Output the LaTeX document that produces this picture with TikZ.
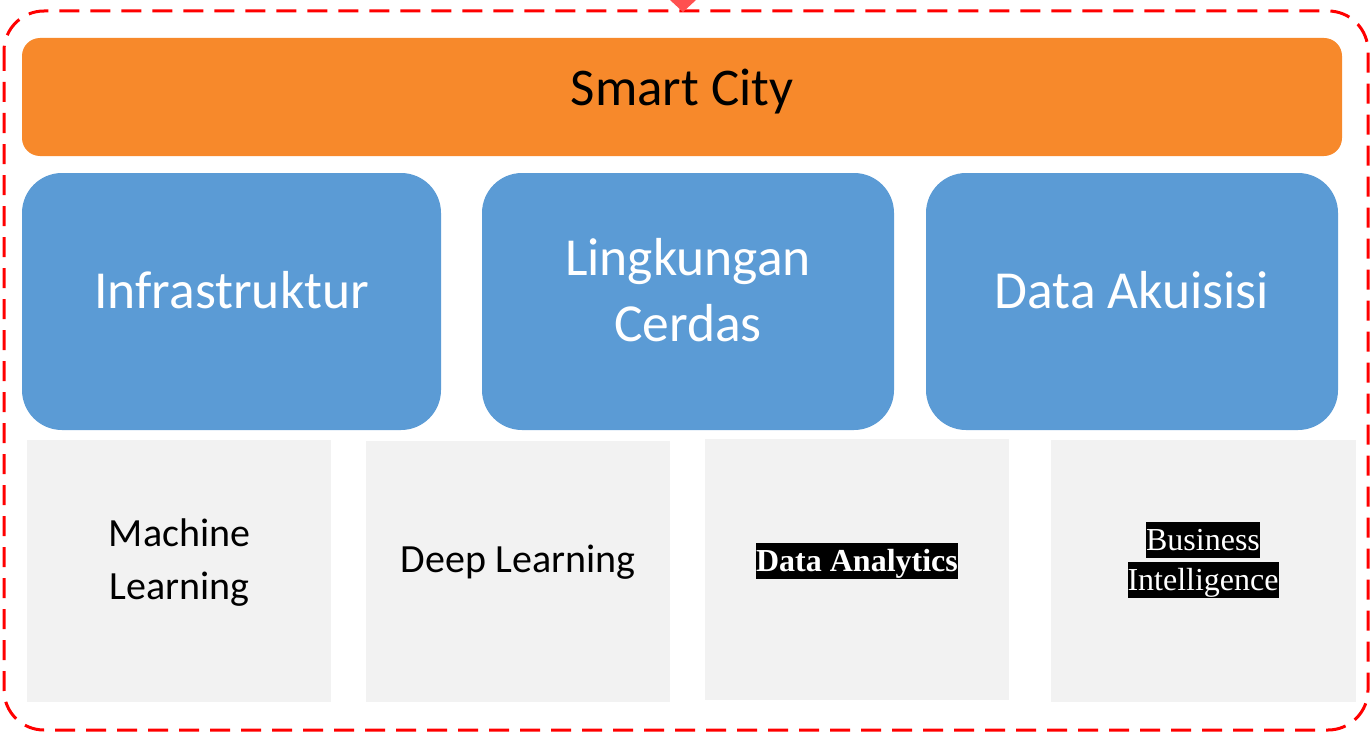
\documentclass[tikz,border=0pt]{standalone}
\usepackage{fontspec}
\setmainfont{Carlito}
\newfontfamily\timesf{Liberation Serif}
\definecolor{orangebar}{HTML}{F7892B}
\definecolor{bluebox}{HTML}{5B9BD5}
\definecolor{graybox}{HTML}{F2F2F2}
\definecolor{dashred}{HTML}{FF0000}
\definecolor{handlered}{HTML}{FF5050}
\newcommand{\hlblack}[1]{{\setlength{\fboxsep}{0pt}\colorbox{black}{\rule[-0.22em]{0pt}{1.1em}\textcolor{white}{#1}}}}
\tikzset{
  topbar/.style={fill=orangebar, draw=none, rounded corners=18pt, inner sep=0pt},
  pillar/.style={fill=bluebox, draw=none, rounded corners=40pt, inner sep=0pt, text=white, align=center, font=\fontsize{53.5}{66}\selectfont},
  tech/.style={fill=graybox, draw=none, inner sep=0pt, align=center, font=\fontsize{40}{53}\selectfont},
  frame/.style={draw=dashred, line width=3pt, dash pattern=on 20pt off 11pt, rounded corners=40pt}
}
\begin{document}
\begin{tikzpicture}[x=1pt,y=-1pt]
\useasboundingbox (0,0) rectangle (1372,733);
% outer dashed frame
\draw[frame] (4,11) rectangle (1368,730);
\fill[handlered] (670,0) -- (696,0) -- (683,12) -- cycle;
% top bar
\node[topbar, minimum width=1320pt, minimum height=118pt] (city) at (682,97) {};
\node[font=\fontsize{53}{60}\selectfont] (citytext) at (682,92) {Smart City};
% pillars
\node[pillar, minimum width=419pt, minimum height=257pt] (infra) at (231.5,301.5) {};
\node[pillar] (infratext) at (231.5,290) {Infrastruktur};
\node[pillar, minimum width=412pt, minimum height=257pt] (env) at (688,301.5) {};
\node[pillar] (envtext) at (688,290) {Lingkungan\\Cerdas};
\node[pillar, minimum width=412pt, minimum height=257pt] (acq) at (1132,301.5) {};
\node[pillar] (acqtext) at (1132,290) {Data Akuisisi};
% technologies
\node[tech, minimum width=304pt, minimum height=262pt] (ml) at (179,571) {};
\node[tech] (mltext) at (179.5,563) {Machine\\Learning};
\node[tech, minimum width=304pt, minimum height=261pt] (dl) at (518,571.5) {};
\node[tech] (dltext) at (518,562) {Deep Learning};
\node[tech, minimum width=304pt, minimum height=261pt] (da) at (857,569.5) {};
\node[font=\timesf\bfseries\fontsize{32}{40}\selectfont, inner sep=0pt] (datext) at (857,561) {\hlblack{Data Analytics}};
\node[tech, minimum width=305pt, minimum height=262pt] (bi) at (1203.5,571) {};
\node[font=\timesf\fontsize{32}{40}\selectfont, align=center, inner sep=0pt] (bitext) at (1203,560) {\hlblack{Business}\\\hlblack{Intelligence}};
\end{tikzpicture}
\end{document}
